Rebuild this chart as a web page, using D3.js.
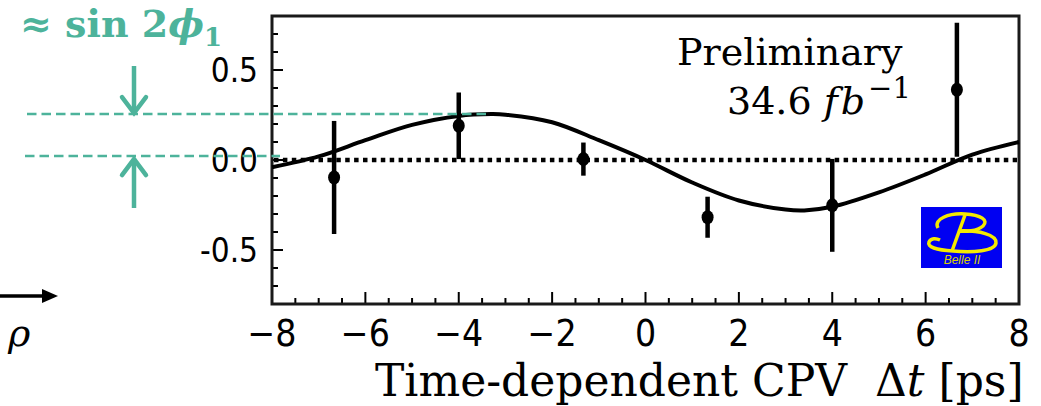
<!DOCTYPE html>
<html>
<head>
<meta charset="utf-8">
<script src="https://cdn.jsdelivr.net/npm/d3@7"></script>
<style>
  body { margin: 0; background: #fff; }
  svg { display: block; }
</style>
</head>
<body>
<div id="chart"></div>
<script>
// ---- data ----
const binCenters = [-6.67, -4, -1.33, 1.33, 4, 6.67];
const asymValues = [-0.097, 0.19, 0.005, -0.318, -0.252, 0.39];
const asymErrors = [0.314, 0.185, 0.092, 0.114, 0.258, 0.372];

// fitted curve
const fitT = [-8, -7, -6, -5, -4, -3.3, -3, -2, -1, 0, 1, 2, 3, 3.4, 4, 5, 6, 7, 8];
const fitA = [-0.04, 0.02, 0.11, 0.195, 0.245, 0.255, 0.252, 0.21, 0.11, 0.0, -0.125, -0.225, -0.275, -0.28, -0.26, -0.18, -0.08, 0.03, 0.1];

const xTicks = [-8, -6, -4, -2, 0, 2, 4, 6, 8];
const xTickLabels = ["\u22128", "\u22126", "\u22124", "\u22122", "0", "2", "4", "6", "8"];
const yTicks = [0.5, 0, -0.5];
const yTickLabels = ["0.5", "0.0", "-0.5"];

// sin2phi1 annotation levels
const annoLevels = [0.255, 0.022];

const W = 1041, H = 406;
const teal = "#4db39b";
const serif = "'DejaVu Serif', 'Liberation Serif', serif";
const cond = "'DejaVu Sans Condensed', 'DejaVu Sans', sans-serif";

const svg = d3.select("#chart").append("svg")
    .attr("width", W)
    .attr("height", H);

const x = d3.scaleLinear().domain([-8, 8]).range([272, 1019]);
const y = d3.scaleLinear().domain([-0.8, 0.8]).range([304, 16]);

/******* axes + ticks */
const plot = svg.append("g");

// minor/major ticks on the left (pointing inward)
const yMinor = d3.range(-7, 8).map(d => d / 10);
plot.selectAll(".ytick")
    .data(yMinor)
    .enter()
    .append("line")
    .attr("x1", x(-8))
    .attr("x2", d => x(-8) + (Math.abs(d * 2 - Math.round(d * 2)) < 1e-6 ? 11 : 6))
    .attr("y1", d => y(d))
    .attr("y2", d => y(d))
    .attr("stroke", "#000")
    .attr("stroke-width", 2);

const xMinor = d3.range(-15, 16).map(d => d / 2);
plot.selectAll(".xtick")
    .data(xMinor)
    .enter()
    .append("line")
    .attr("x1", d => x(d))
    .attr("x2", d => x(d))
    .attr("y1", y(-0.8))
    .attr("y2", d => y(-0.8) - (d % 2 === 0 ? 12 : 6))
    .attr("stroke", "#000")
    .attr("stroke-width", 2);

// frame
plot.append("rect")
    .attr("x", x(-8))
    .attr("y", y(0.8))
    .attr("width", x(8) - x(-8))
    .attr("height", y(-0.8) - y(0.8))
    .attr("fill", "none")
    .attr("stroke", "#1a1a1a")
    .attr("stroke-width", 3);

// tick labels
plot.selectAll(".ylab")
    .data(yTicks)
    .enter()
    .append("text")
    .attr("x", 258)
    .attr("y", d => y(d) + 12)
    .attr("text-anchor", "end")
    .style("font-family", cond)
    .style("font-stretch", "condensed")
    .style("font-size", "33px")
    .text((d, i) => yTickLabels[i]);

plot.selectAll(".xlab")
    .data(xTicks)
    .enter()
    .append("text")
    .attr("x", d => x(d))
    .attr("y", 346)
    .attr("text-anchor", "middle")
    .style("font-family", cond)
    .style("font-stretch", "condensed")
    .style("font-size", "37px")
    .text((d, i) => xTickLabels[i]);

// x title
const title = svg.append("text")
    .attr("x", 375)
    .attr("y", 396)
    .style("font-family", serif)
    .style("font-size", "44px");
title.append("tspan").text("Time-dependent CPV \u00a0\u0394");
title.append("tspan").style("font-style", "italic").text("t");
title.append("tspan").text(" [ps]");

/******* zero line, fit, points */
plot.append("line")
    .attr("x1", x(-8) + 2)
    .attr("x2", x(8) - 2)
    .attr("y1", y(0))
    .attr("y2", y(0))
    .attr("stroke", "#000")
    .attr("stroke-width", 4.5)
    .attr("stroke-dasharray", "4.5,4.4");

const line = d3.line()
    .x((d, i) => x(fitT[i]))
    .y(d => y(d))
    .curve(d3.curveCatmullRom);

plot.append("path")
    .datum(fitA)
    .attr("d", line)
    .attr("fill", "none")
    .attr("stroke", "#000")
    .attr("stroke-width", 4);

plot.selectAll(".ebar")
    .data(asymValues)
    .enter()
    .append("line")
    .attr("x1", (d, i) => x(binCenters[i]))
    .attr("x2", (d, i) => x(binCenters[i]))
    .attr("y1", (d, i) => y(d + asymErrors[i]))
    .attr("y2", (d, i) => y(d - asymErrors[i]))
    .attr("stroke", "#000")
    .attr("stroke-width", 4.5);

plot.selectAll(".pt")
    .data(asymValues)
    .enter()
    .append("ellipse")
    .attr("cx", (d, i) => x(binCenters[i]))
    .attr("cy", d => y(d))
    .attr("rx", 6)
    .attr("ry", 7)
    .attr("fill", "#000");

/******* texts inside */
svg.append("text")
    .attr("x", 677)
    .attr("y", 65)
    .style("font-family", serif)
    .style("font-size", "38px")
    .text("Preliminary");

const lumi = svg.append("text")
    .attr("x", 727)
    .attr("y", 114)
    .style("font-family", serif)
    .style("font-size", "38px");
lumi.append("tspan").text("34.6 ");
lumi.append("tspan").style("font-style", "italic").style("letter-spacing", "3px").text("fb");
lumi.append("tspan").attr("dy", -16).style("font-size", "29px").text("\u22121");

/******* Belle II logo */
const logo = svg.append("g").attr("transform", "translate(921,207)");
logo.append("rect").attr("width", 81).attr("height", 61).attr("fill", "#0000f2");
const yel = "#f5ea00";
logo.append("path")
    .attr("d", "M17,21 C12,12 28,6 44,7 C60,8 68,13 62,19 C56,24 45,25 37,24")
    .attr("fill", "none").attr("stroke", yel).attr("stroke-width", 3.5);
logo.append("path")
    .attr("d", "M37,24 C58,23 76,28 75,36 C74,44 52,46 32,44 C15,43 6,40 8,35 C10,31 15,31 19,33")
    .attr("fill", "none").attr("stroke", yel).attr("stroke-width", 3.5);
logo.append("path")
    .attr("d", "M44,8 L31,44")
    .attr("fill", "none").attr("stroke", yel).attr("stroke-width", 3.5);
logo.append("text")
    .attr("x", 41)
    .attr("y", 57)
    .attr("text-anchor", "middle")
    .style("font-family", "'Liberation Sans', sans-serif")
    .style("font-style", "italic")
    .style("font-size", "12px")
    .attr("fill", "#d8d000")
    .text("Belle II");

/******* sin2phi1 annotation */
const anno = svg.append("g");
anno.append("line")
    .attr("x1", 27).attr("x2", x(-3.4))
    .attr("y1", y(annoLevels[0])).attr("y2", y(annoLevels[0]))
    .attr("stroke", teal).attr("stroke-width", 2.5).attr("stroke-dasharray", "9.5,5");
anno.append("line")
    .attr("x1", 25).attr("x2", 280)
    .attr("y1", y(annoLevels[1])).attr("y2", y(annoLevels[1]))
    .attr("stroke", teal).attr("stroke-width", 2.5).attr("stroke-dasharray", "9.5,5");

const ax = 134;
const yTop = y(annoLevels[0]) - 1, yBot = y(annoLevels[1]) + 3;
anno.append("line").attr("x1", ax).attr("x2", ax).attr("y1", 66).attr("y2", yTop)
    .attr("stroke", teal).attr("stroke-width", 4.5);
anno.append("path").attr("d", `M${ax - 12},${yTop - 16} L${ax},${yTop} L${ax + 12},${yTop - 16}`)
    .attr("fill", "none").attr("stroke", teal).attr("stroke-width", 4.5).attr("stroke-linecap", "round");
anno.append("line").attr("x1", ax).attr("x2", ax).attr("y1", 208).attr("y2", yBot)
    .attr("stroke", teal).attr("stroke-width", 4.5);
anno.append("path").attr("d", `M${ax - 12},${yBot + 16} L${ax},${yBot} L${ax + 12},${yBot + 16}`)
    .attr("fill", "none").attr("stroke", teal).attr("stroke-width", 4.5).attr("stroke-linecap", "round");

const s2p = svg.append("text")
    .attr("x", 20)
    .attr("y", 37)
    .attr("fill", teal)
    .style("font-family", serif)
    .style("font-weight", "bold")
    .style("font-size", "38px");
s2p.append("tspan").text("\u2248 sin 2");
s2p.append("tspan").style("font-style", "italic").text("\u03d5");
s2p.append("tspan").attr("dy", 9).style("font-size", "26px").text("1");

/******* rho arrow bottom-left */
svg.append("line").attr("x1", 0).attr("x2", 46).attr("y1", 296).attr("y2", 296)
    .attr("stroke", "#000").attr("stroke-width", 3.5);
svg.append("path").attr("d", "M42,289 L58,296 L42,303 Z").attr("fill", "#000");
svg.append("text")
    .attr("x", 8)
    .attr("y", 346)
    .style("font-family", serif)
    .style("font-style", "italic")
    .style("font-size", "38px")
    .text("\u03c1");
</script>
</body>
</html>
